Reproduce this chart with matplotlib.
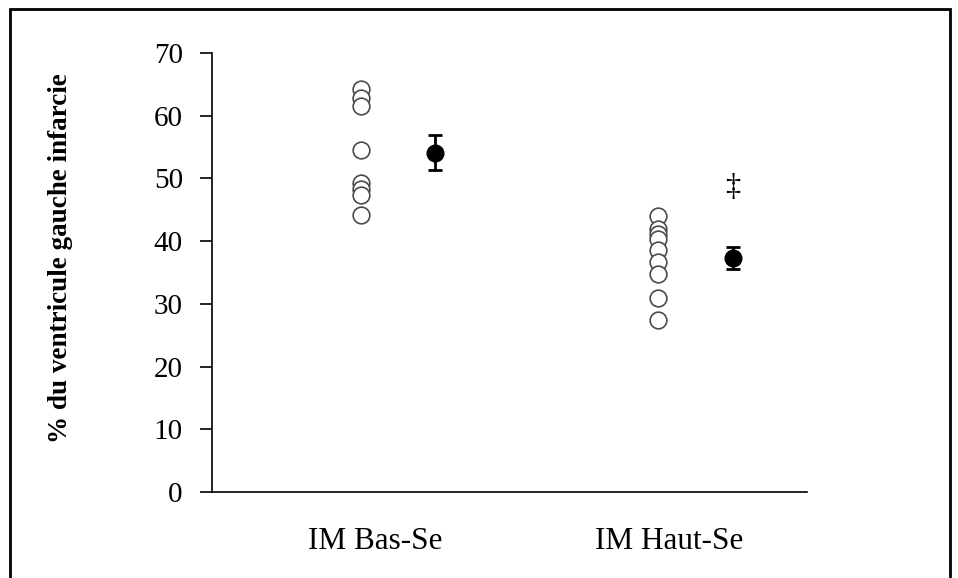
import matplotlib.pyplot as plt
import numpy as np
from matplotlib.patches import Rectangle

plt.rc('font', family=['Liberation Serif', 'DejaVu Serif'])

# individual values (% of LV infarcted)
bas_se = [64.2, 62.9, 61.6, 54.5, 49.2, 48.3, 47.3, 44.2]
haut_se = [44.0, 42.0, 41.2, 40.4, 38.6, 36.6, 34.7, 31.0, 27.4]
means = [54.1, 37.3]
sems = [2.75, 1.75]
groups = ['IM Bas-Se', 'IM Haut-Se']

x_indiv = [2, 6]
x_mean = [3, 7]
x_labels = [2.2, 6.15]

fig = plt.figure(figsize=(9.58, 5.78), dpi=100)
ax = fig.add_axes([0.2213, 0.1488, 0.6211, 0.7595])

for xi, vals in zip(x_indiv, [bas_se, haut_se]):
    ax.plot([xi] * len(vals), vals, 'o', ms=12, mfc='white', mec='#4a4a4a',
            mew=1.2, linestyle='none')

ax.errorbar(x_mean, means, yerr=sems, fmt='o', ms=12, color='black',
            ecolor='black', elinewidth=2, capsize=5, capthick=2)

ax.text(x_mean[1], 48.5, '\u2021', ha='center', va='center', fontsize=22)

ax.set_xlim(0, 8)
ax.set_ylim(0, 70)
ax.set_yticks(np.arange(0, 71, 10))
ax.set_xticks(x_labels)
ax.set_xticklabels(groups)
ax.tick_params(axis='x', length=0, pad=25, labelsize=22.5)
ax.tick_params(axis='y', direction='out', length=9, width=1.2, pad=12, labelsize=21)
ax.spines['right'].set_visible(False)
ax.spines['top'].set_visible(False)
ax.spines['left'].set_linewidth(1.2)
ax.spines['bottom'].set_linewidth(1.2)

fig.text(0.063, 0.553, '% du ventricule gauche infarcie', rotation=90,
         ha='center', va='center', fontsize=19.5, fontweight='bold')

# frame around the chart area
fig.patches.append(Rectangle((10 / 958, -0.05), 940 / 958, 1.05 - 9 / 578,
                             transform=fig.transFigure, fill=False,
                             edgecolor='black', linewidth=2))

fig.savefig('out.png', dpi=100)
